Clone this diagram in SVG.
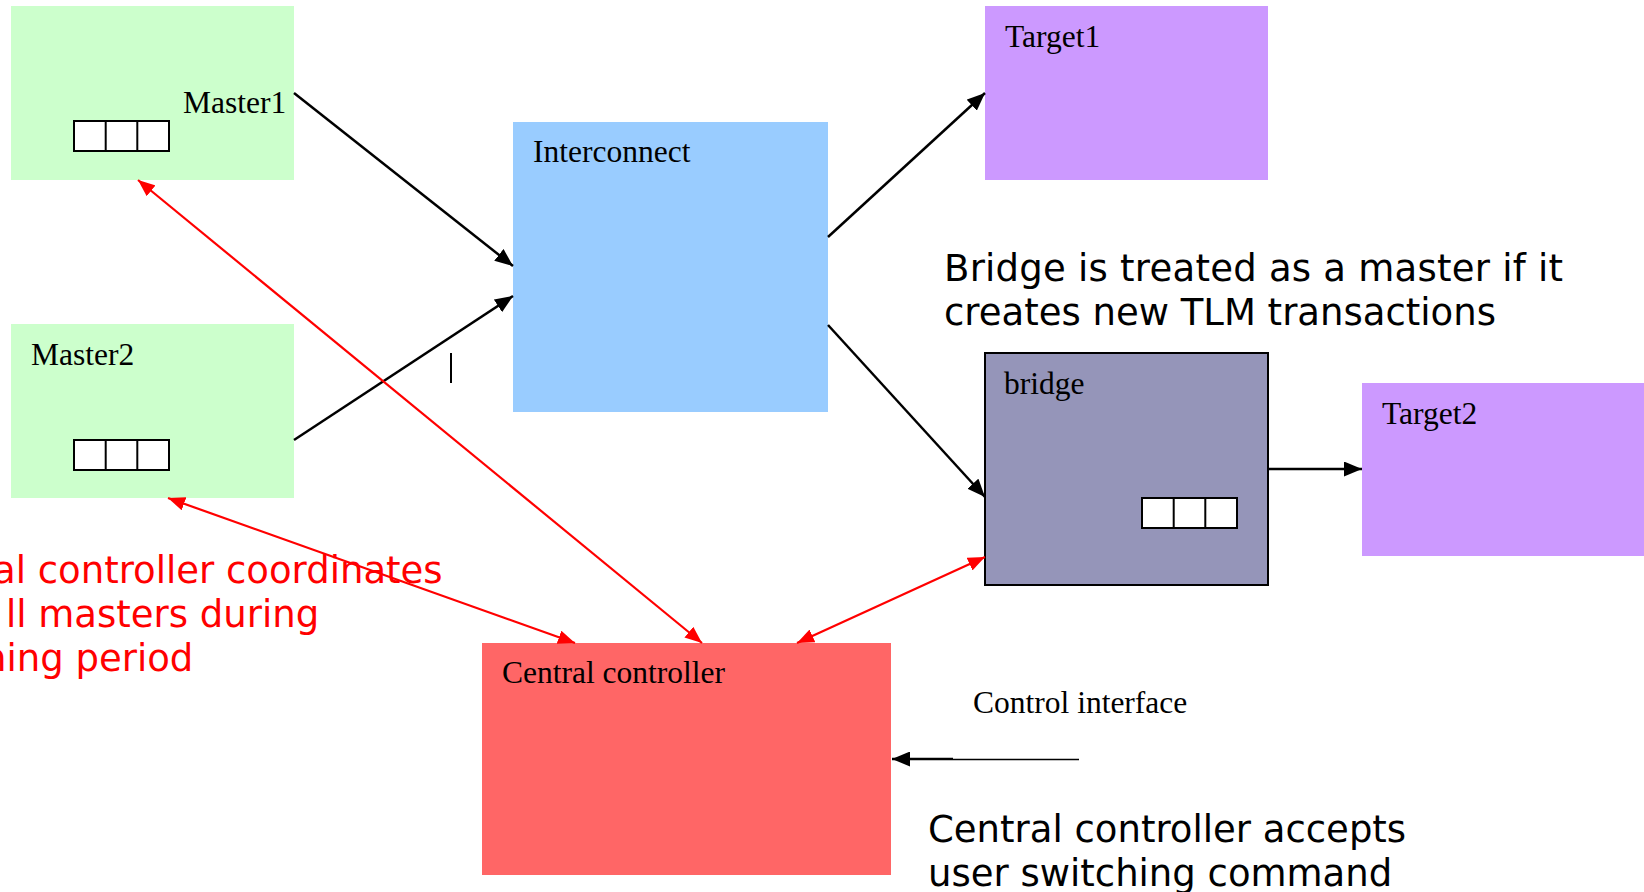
<svg xmlns="http://www.w3.org/2000/svg" width="1644" height="892" viewBox="0 0 1644 892">
  <style>
    .lbl { font-family: "Liberation Serif", "Times New Roman", serif; font-size: 31.5px; fill: #000; }
    .note { font-family: "DejaVu Sans", Verdana, sans-serif; font-size: 37px; }
    .blk { stroke: #000; stroke-width: 2.5; fill: none; }
    .red { stroke: #FF0000; stroke-width: 2.2; fill: none; }
    .q { fill: #fff; stroke: #000; stroke-width: 2; }
    .qd { stroke: #000; stroke-width: 2; }
  </style>
  <defs>
    <marker id="ah" markerUnits="userSpaceOnUse" markerWidth="19" markerHeight="15" refX="18" refY="7.5" orient="auto">
      <path d="M0,0 L18,7.5 L0,15 Z" fill="#000"/>
    </marker>
    <marker id="rh" markerUnits="userSpaceOnUse" markerWidth="18" markerHeight="14" refX="17" refY="7" orient="auto-start-reverse">
      <path d="M0,0 L17,7 L0,14 Z" fill="#FF0000"/>
    </marker>
  </defs>

  <rect width="1644" height="892" fill="#fff"/>

  <!-- nodes -->
  <g id="master1">
    <rect x="11" y="6" width="283" height="174" fill="#CCFFCC"/>
    <text class="lbl" x="183" y="113">Master1</text>
    <rect class="q" x="74" y="121" width="95" height="30"/>
    <line class="qd" x1="105.7" y1="121" x2="105.7" y2="151"/>
    <line class="qd" x1="137.3" y1="121" x2="137.3" y2="151"/>
  </g>

  <g id="master2">
    <rect x="11" y="324" width="283" height="174" fill="#CCFFCC"/>
    <text class="lbl" x="31" y="365">Master2</text>
    <rect class="q" x="74" y="440" width="95" height="30"/>
    <line class="qd" x1="105.7" y1="440" x2="105.7" y2="470"/>
    <line class="qd" x1="137.3" y1="440" x2="137.3" y2="470"/>
  </g>

  <g id="interconnect">
    <rect x="513" y="122" width="315" height="290" fill="#99CCFF"/>
    <text class="lbl" x="533" y="162">Interconnect</text>
  </g>

  <g id="target1">
    <rect x="985" y="6" width="283" height="174" fill="#CC99FF"/>
    <text class="lbl" x="1005" y="47">Target1</text>
  </g>

  <g id="bridge">
    <rect x="985" y="353" width="283" height="232" fill="#9595B9" stroke="#000" stroke-width="2"/>
    <text class="lbl" x="1004" y="394">bridge</text>
    <rect class="q" x="1142" y="498" width="95" height="30"/>
    <line class="qd" x1="1173.7" y1="498" x2="1173.7" y2="528"/>
    <line class="qd" x1="1205.3" y1="498" x2="1205.3" y2="528"/>
  </g>

  <g id="target2">
    <rect x="1362" y="383" width="282" height="173" fill="#CC99FF"/>
    <text class="lbl" x="1382" y="424">Target2</text>
  </g>

  <g id="central-controller">
    <rect x="482" y="643" width="409" height="232" fill="#FF6666"/>
    <text class="lbl" x="502" y="683">Central controller</text>
  </g>

  <!-- connectors -->
  <g id="connectors">
    <line class="blk" x1="294" y1="93" x2="513" y2="266" marker-end="url(#ah)"/>
    <line class="blk" x1="294" y1="440" x2="513" y2="296" marker-end="url(#ah)"/>
    <line class="blk" x1="828" y1="237" x2="985" y2="93" marker-end="url(#ah)"/>
    <line class="blk" x1="828" y1="325" x2="985" y2="497" marker-end="url(#ah)"/>
    <line class="blk" x1="1268" y1="469" x2="1362" y2="469" marker-end="url(#ah)"/>

    <line class="red" x1="138" y1="180" x2="702" y2="643" marker-start="url(#rh)" marker-end="url(#rh)"/>
    <line class="red" x1="168" y1="498" x2="575" y2="643" marker-start="url(#rh)" marker-end="url(#rh)"/>
    <line class="red" x1="985" y1="557" x2="797" y2="643" marker-start="url(#rh)" marker-end="url(#rh)"/>

    <line class="blk" x1="953" y1="759" x2="892" y2="759" marker-end="url(#ah)"/>
    <line stroke="#000" stroke-width="1.6" x1="953" y1="759.5" x2="1079" y2="759.5"/>
  </g>

  <!-- stray tick mark -->
  <line stroke="#000" stroke-width="2" x1="451" y1="353" x2="451" y2="383"/>

  <!-- annotations -->
  <text class="lbl" x="973" y="713">Control interface</text>

  <text class="note" fill="#000" x="944" y="281" textLength="619" lengthAdjust="spacing">Bridge is treated as a master if it</text>
  <text class="note" fill="#000" x="944" y="325">creates new TLM transactions</text>

  <text class="note" fill="#000" x="928" y="842">Central controller accepts</text>
  <text class="note" fill="#000" x="928" y="886">user switching command</text>

  <text class="note" fill="#FF0000" x="-7" y="583">al controller coordinates</text>
  <text class="note" fill="#FF0000" x="6" y="627">ll masters during</text>
  <text class="note" fill="#FF0000" x="-17" y="671">ning period</text>
</svg>
